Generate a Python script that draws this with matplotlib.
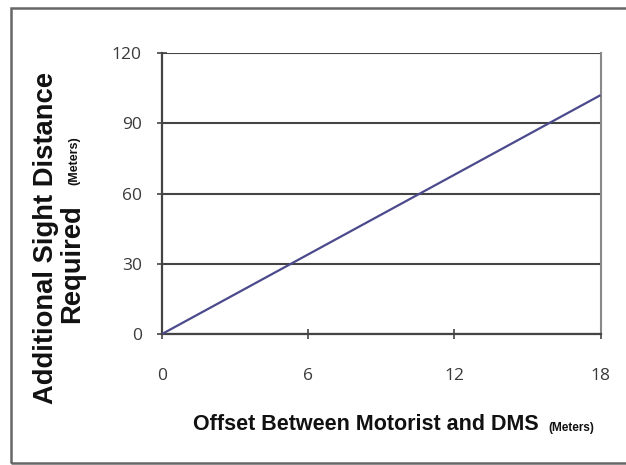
import matplotlib
matplotlib.use("Agg")
import matplotlib.pyplot as plt
from matplotlib.patches import Rectangle

offset_m = [0, 18]
sight_m = [0, 102]
x_ticks = [0, 6, 12, 18]
y_ticks = [0, 30, 60, 90, 120]
x_label = "Offset Between Motorist and DMS"
y_label_1 = "Additional Sight Distance"
y_label_2 = "Required"
unit = "(Meters)"

fig = plt.figure(figsize=(6.26, 4.65), dpi=100)
fig.patch.set_facecolor("white")
ax = fig.add_axes([0.2588, 0.2817, 0.9593 - 0.2588, 0.886 - 0.2817])

ax.plot(offset_m, sight_m, color="#4a4a8c", lw=1.6, solid_capstyle="butt", zorder=3)
ax.set_xlim(0, 18)
ax.set_ylim(0, 120)
ax.set_xticks(x_ticks)
ax.set_yticks(y_ticks)
ax.set_xticklabels([str(v) for v in x_ticks])
ax.set_yticklabels([str(v) for v in y_ticks])
ax.yaxis.grid(True, color="#444444", lw=1.5)
ax.set_axisbelow(True)

for s in ["left", "bottom"]:
    ax.spines[s].set_color("#444444")
    ax.spines[s].set_linewidth(1.6)
ax.spines["right"].set_color("#888888")
ax.spines["right"].set_linewidth(1.5)
ax.spines["top"].set_visible(False)

ax.tick_params(axis="both", direction="inout", length=7, width=1.2, color="#444444",
               labelcolor="#3a3a3a")
ax.tick_params(axis="x", pad=21)
ax.tick_params(axis="y", pad=11)
for lab in ax.get_xticklabels() + ax.get_yticklabels():
    lab.set_fontfamily(["Open Sans", "DejaVu Sans"])
    lab.set_fontsize(12.5)

# x label
fig.text(193 / 626, 1 - 424 / 465, x_label, ha="left", va="center",
         fontsize=15.5, fontweight="bold",
         family=["Liberation Sans"], color="#111111")
fig.text(548 / 626, 1 - 428 / 465, unit, ha="left", va="center",
         fontsize=8.5, fontweight="bold",
         family=["Liberation Sans"], color="#111111")

# y label
fig.text(46 / 626, 1 - 238 / 465, y_label_1, ha="center", va="center", rotation=90,
         fontsize=19.7, fontweight="bold", family=["Liberation Sans"], color="#111111")
fig.text(72 / 626, 1 - 264 / 465, y_label_2, ha="center", va="center", rotation=90,
         fontsize=19.7, fontweight="bold", family=["Liberation Sans"], color="#111111")
fig.text(74 / 626, 1 - 161 / 465, unit, ha="center", va="center", rotation=90,
         fontsize=9, fontweight="bold", family=["Liberation Sans"], color="#111111")

# outer frame
fig.patches.append(Rectangle((11 / 626, 2 / 465), 1.2, 1 - 10 / 465, transform=fig.transFigure,
                             fill=False, edgecolor="#666666", lw=1.8, clip_on=False))

fig.savefig("out.png", dpi=100)
